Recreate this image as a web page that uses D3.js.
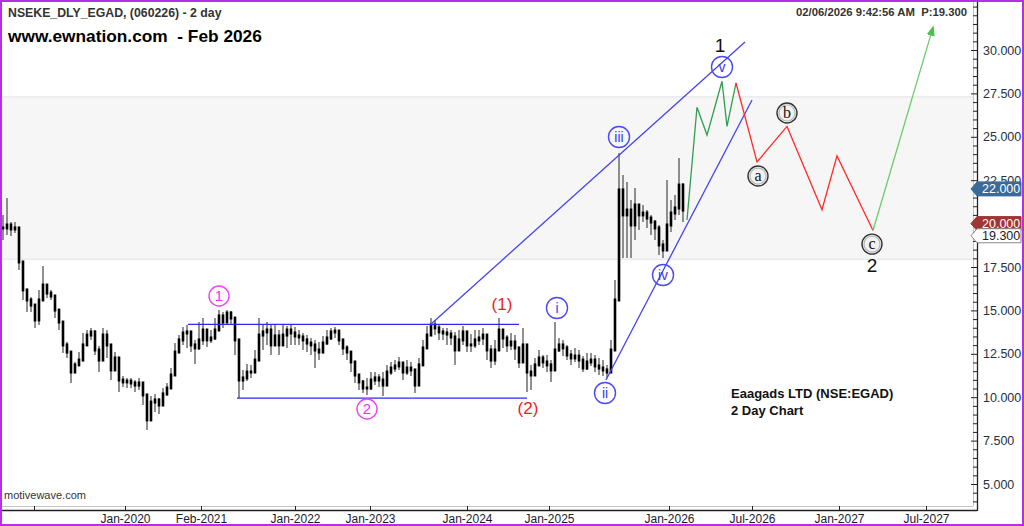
<!DOCTYPE html>
<html>
<head>
<meta charset="utf-8">
<script src="https://cdn.jsdelivr.net/npm/d3@7"></script>
<style>
  html, body { margin: 0; padding: 0; background: #fff; }
  svg { display: block; font-family: "Liberation Sans", Arial, sans-serif; }
</style>
</head>
<body>
<div class="chart"></div>
<script>
// price bars, one every 2-day period
const closes = [19.75,19.92,19.69,19.75,17.79,16.18,15.60,15.31,14.45,15.60,16.46,16.00,15.83,15.02,14.33,13.01,12.60,11.45,11.86,12.14,
  13.01,13.58,13.76,12.72,12.14,13.58,13.01,11.57,12.26,10.99,10.88,10.93,10.82,10.70,10.82,10.13,8.69,9.72,9.84,9.55,
  10.19,10.53,11.28,12.60,13.30,13.70,13.76,13.01,12.84,13.30,13.87,13.30,13.41,13.87,14.68,14.33,14.85,14.56,13.30,10.99,
  11.11,11.45,11.45,12.14,13.58,13.76,13.87,13.01,13.53,13.01,13.58,13.87,13.70,13.53,13.47,13.30,13.12,13.01,12.72,12.60,
  13.12,13.41,13.76,13.81,13.30,12.84,12.60,12.03,11.28,10.88,10.53,10.53,10.99,11.11,10.99,10.70,11.45,11.68,11.80,11.97,
  11.45,11.68,11.57,10.70,11.86,12.84,13.58,14.16,13.99,13.76,13.70,13.64,13.47,12.72,13.30,13.76,13.01,13.01,13.30,13.41,
  13.58,12.72,12.14,12.72,13.87,13.41,13.01,13.18,12.84,12.03,13.01,11.45,11.28,11.86,12.26,12.03,11.86,11.57,12.72,13.01,
  12.84,12.43,12.26,12.37,12.14,11.68,12.03,12.14,11.80,11.68,11.57,11.45,12.72,15.60,21.94,20.50,20.78,19.92,21.07,20.50,
  20.61,20.32,20.09,19.75,18.77,18.48,19.92,20.61,20.90,22.22,20.78];
const highs = [20.50,21.48,20.09,20.09,19.75,17.62,16.00,15.77,15.02,16.18,17.56,16.29,16.18,15.60,14.74,13.87,13.18,12.03,12.03,12.60,
  13.70,13.87,13.99,13.87,12.95,13.99,13.87,12.55,12.60,12.14,11.22,11.11,11.11,10.99,11.11,10.70,9.84,10.07,10.19,9.96,
  10.53,10.82,11.68,13.12,13.58,14.04,14.16,13.58,13.30,14.33,14.56,13.87,13.87,14.56,15.02,14.91,15.02,14.97,14.16,12.14,
  11.57,11.91,11.86,12.72,14.56,14.16,14.33,14.16,14.16,13.87,14.16,14.10,14.16,14.04,13.87,13.70,13.58,13.41,13.30,13.18,
  13.53,13.87,13.99,14.04,13.76,13.30,13.01,12.60,11.86,11.28,10.99,11.11,11.45,11.45,11.34,11.45,11.86,12.03,12.14,12.32,
  12.03,12.14,12.03,11.57,12.26,13.30,14.10,14.56,14.45,14.16,13.99,13.99,13.87,13.76,13.87,14.10,13.58,13.64,13.87,13.87,
  13.99,13.58,13.01,13.30,14.56,13.87,13.58,13.70,13.58,12.72,13.99,12.14,11.86,12.26,12.72,12.43,12.43,12.14,14.33,13.41,
  13.30,13.01,12.72,12.84,12.72,12.37,12.55,12.55,12.43,12.26,12.14,11.86,13.30,16.75,24.07,22.80,22.40,21.36,22.05,21.07,
  21.07,20.78,20.50,20.21,19.92,19.06,22.51,21.36,21.65,23.78,22.34];
const lows = [19.06,19.34,19.29,19.46,17.33,15.60,14.91,14.91,13.99,14.16,15.72,15.72,15.60,14.56,13.87,12.55,12.26,10.82,11.45,11.80,
  12.60,13.12,13.30,12.43,11.45,12.72,12.26,10.99,11.86,10.30,10.59,10.53,10.53,10.30,10.42,9.55,8.11,9.38,9.15,9.03,
  9.84,10.07,10.88,12.03,12.84,13.01,12.84,12.60,11.91,12.72,13.01,12.89,13.12,13.30,14.16,13.99,14.45,14.16,12.43,9.96,
  10.42,10.93,11.11,11.57,13.01,12.72,13.01,12.43,13.01,12.43,13.01,12.84,13.01,13.01,13.01,12.72,12.60,12.43,11.68,12.14,
  12.72,13.01,13.30,13.41,13.01,12.43,12.14,11.45,10.82,10.42,10.24,10.13,10.42,10.70,10.59,10.07,10.99,11.28,11.45,11.57,
  10.99,11.28,11.22,10.24,11.28,12.14,13.01,13.58,13.58,13.30,13.30,13.01,13.01,11.86,12.72,13.01,12.60,12.60,12.84,13.01,
  13.01,12.14,11.68,11.86,13.01,12.84,12.60,12.72,12.14,11.68,12.26,10.30,10.42,11.45,11.86,11.68,11.45,10.88,12.26,12.60,
  12.37,12.14,11.86,12.03,11.68,11.45,11.57,11.80,11.45,11.28,11.22,11.11,11.45,13.87,17.79,18.02,18.02,18.02,19.06,19.63,
  20.09,19.75,19.34,19.06,18.19,18.02,18.77,19.52,20.21,20.50,20.09];

// x axis, positions in bar numbers
const xTickBars = [7.75, 30.5, 49.5, 73, 91.75, 116, 136.5, 166.5, 187.25, 209, 230.75];
const xTickLabels = ["", "Jan-2020", "Feb-2021", "Jan-2022", "Jan-2023", "Jan-2024", "Jan-2025", "Jan-2026", "Jul-2026", "Jan-2027", "Jul-2027"];
const yTicks = [5, 7.5, 10, 12.5, 15, 17.5, 20, 22.5, 25, 27.5, 30];

// projected path  [bar, price]
const impulseProj = [[171, 20.21], [173.5, 26.7], [176, 25.1], [179.75, 28.2], [181, 25.6], [183.25, 28.1]];
const correctionProj = [[183.25, 28.1], [188.5, 23.55], [196, 25.6], [204.75, 20.8], [208.5, 23.9], [217.5, 19.6]];
const rallyProj = [[217.5, 19.6], [232.5, 31.3]];

// trend lines
const channelUpper = [[106.75, 14.16], [185.5, 30.46]];
const channelLower = [[150.75, 10.99], [187.25, 27.12]];
const rangeTop = [[46.25, 14.2], [129, 14.2]];
const rangeBottom = [[58.5, 9.95], [131, 9.95]];
const shadedBand = [17.95, 27.3];

// wave labels
const minorLabels = [["1", 54, 15.83], ["2", 91, 9.32]];
const intermediateLabels = [["(1)", 124.75, 15.37], ["(2)", 131.25, 9.38]];
const minuteLabels = [["i", 138.5, 15.14], ["ii", 150.5, 10.24], ["iii", 154, 24.99], ["iv", 165, 17.04], ["v", 179.75, 29.02]];
const abcLabels = [["a", 188.75, 22.74], ["b", 196, 26.37], ["c", 217.25, 18.82]];
const primaryLabels = [["1", 179.25, 30.29], ["2", 217.25, 17.61]];

// price tags on the right axis
const tagValues = [22, 20, 19.3];
const tagFills = ["#3a6a98", "#a33434", "#ffffff"];
const tagText = ["#ffffff", "#ffffff", "#222222"];

(function(d, d3) {
  const W = 1024, H = 526;
  const plotRight = 973, plotBottom = 506, axisX = 977, axisY = 510;

  const svg = d3.select(".chart").append("svg").attr("width", W).attr("height", H);

  const x = d3.scaleLinear().domain([-0.25, 242.75]).range([2, 974]);
  const y = d3.scaleLinear().domain([5, 30]).range([484, 50]);
  const line = d3.line().x(p => x(p[0])).y(p => y(p[1]));

  // band + plot frame
  svg.append("rect")
    .attr("x", 2).attr("width", plotRight - 2)
    .attr("y", y(shadedBand[1])).attr("height", y(shadedBand[0]) - y(shadedBand[1]))
    .attr("fill", "#f6f6f6");
  shadedBand.forEach(v => {
    svg.append("line").attr("x1", 2).attr("x2", plotRight)
      .attr("y1", y(v)).attr("y2", y(v))
      .attr("stroke", "#e2e2e2");
  });
  svg.append("line").attr("x1", plotRight + 0.5).attr("x2", plotRight + 0.5)
    .attr("y1", 0).attr("y2", plotBottom).attr("stroke", "#c4c4c4");
  svg.append("line").attr("x1", 0).attr("x2", plotRight).attr("y1", plotBottom + 0.5).attr("y2", plotBottom + 0.5)
    .attr("stroke", "#c4c4c4");

  // price bars
  const bars = svg.append("g");
  bars.selectAll("line.wick").data(closes).join("line")
    .attr("class", "wick")
    .attr("x1", (c, i) => x(i)).attr("x2", (c, i) => x(i))
    .attr("y1", (c, i) => y(highs[i])).attr("y2", (c, i) => y(lows[i]))
    .attr("stroke", "#555").attr("stroke-width", 1.3);
  bars.selectAll("line.body").data(closes).join("line")
    .attr("class", "body")
    .attr("x1", (c, i) => x(i)).attr("x2", (c, i) => x(i))
    .attr("y1", (c, i) => {
      const o = i > 0 ? closes[i - 1] : c;
      return Math.min(y(o), y(c)) - 1.5;
    })
    .attr("y2", (c, i) => {
      const o = i > 0 ? closes[i - 1] : c;
      return Math.max(y(o), y(c)) + 1.5;
    })
    .attr("stroke", "#000").attr("stroke-width", 2.6);

  // trend lines
  [rangeTop, rangeBottom].forEach(seg => {
    svg.append("path").attr("d", line(seg)).attr("stroke", "#2a2af0").attr("stroke-width", 1.2).attr("fill", "none");
  });
  [channelUpper, channelLower].forEach(seg => {
    svg.append("path").attr("d", line(seg)).attr("stroke", "#4444ee").attr("stroke-width", 1.3).attr("fill", "none");
  });

  // projection
  svg.append("defs").append("marker")
    .attr("id", "arrow").attr("viewBox", "0 0 10 10").attr("refX", 8).attr("refY", 5)
    .attr("markerWidth", 8).attr("markerHeight", 8).attr("orient", "auto")
    .append("path").attr("d", "M0,1 L10,5 L0,9 z").attr("fill", "#4cbf4c");
  svg.append("path").attr("d", line(impulseProj)).attr("stroke", "#2e9e4e").attr("stroke-width", 1.3).attr("fill", "none");
  svg.append("path").attr("d", line(correctionProj)).attr("stroke", "#ff2a2a").attr("stroke-width", 1.3).attr("fill", "none");
  svg.append("path").attr("d", line(rallyProj)).attr("stroke", "#6ccc6c").attr("stroke-width", 1.3).attr("fill", "none")
    .attr("marker-end", "url(#arrow)");

  // wave labels
  function circled(list, opts) {
    const g = svg.append("g").selectAll("g").data(list).join("g")
      .attr("transform", l => `translate(${x(l[1])},${y(l[2])})`);
    if (opts.ring) {
      g.append("circle").attr("r", opts.r).attr("fill", opts.fill).attr("stroke", opts.stroke).attr("stroke-width", 1.4);
    }
    if (opts.inner) {
      g.append("circle").attr("r", opts.r - 2).attr("fill", "none").attr("stroke", opts.inner).attr("stroke-width", 1.2);
    }
    g.append("text").text(l => l[0])
      .attr("text-anchor", "middle").attr("dy", opts.dy)
      .attr("font-size", opts.size).attr("fill", opts.color)
      .style("font-family", opts.family || null);
  }

  circled(minorLabels, { ring: true, r: 10, fill: "none", stroke: "#ee44ee", color: "#ee33ee", size: 15, dy: "0.36em" });
  circled(intermediateLabels, { ring: false, color: "#ee1c1c", size: 17, dy: "0.36em" });
  circled(minuteLabels, { ring: true, r: 10.5, fill: "none", stroke: "#4a4af2", color: "#3a3ae6", size: 14, dy: "0.35em" });
  circled(abcLabels, { ring: true, r: 10, fill: "#f2f2f2", stroke: "#333", inner: "#b8b8b8", color: "#111", size: 16,
    dy: "0.3em", family: "'Liberation Serif', 'Times New Roman', serif" });
  circled(primaryLabels, { ring: false, color: "#111", size: 19, dy: "0.36em" });

  // axes
  const xAxis = d3.axisBottom(x).tickValues(xTickBars)
    .tickFormat((b, i) => xTickLabels[i]).tickSizeInner(-4).tickSizeOuter(0).tickPadding(4);
  const gx = svg.append("g").attr("transform", `translate(0,${axisY})`).call(xAxis);
  gx.select(".domain").remove();
  gx.selectAll("line").attr("stroke", "#222");
  gx.selectAll("text").attr("font-size", 12).attr("fill", "#1c1c2c").attr("font-family", "'Liberation Sans', Arial, sans-serif");
  svg.append("line").attr("x1", 0).attr("x2", axisX).attr("y1", axisY + 0.5).attr("y2", axisY + 0.5).attr("stroke", "#222").attr("stroke-width", 1.3);

  const minor = d3.range(3.5, 33, 0.5).filter(v => yTicks.indexOf(v) < 0);
  const gyMinor = svg.append("g").attr("transform", `translate(${axisX},0)`)
    .call(d3.axisRight(y).tickValues(minor).tickFormat("").tickSizeInner(-4).tickSizeOuter(0));
  gyMinor.select(".domain").remove();
  const gy = svg.append("g").attr("transform", `translate(${axisX},0)`)
    .call(d3.axisRight(y).tickValues(yTicks).tickFormat(d3.format(".3f")).tickSizeInner(-6).tickSizeOuter(0).tickPadding(6));
  gy.select(".domain").remove();
  svg.selectAll(".tick line").attr("stroke", "#222");
  gy.selectAll("text").attr("font-size", 12.5).attr("fill", "#263040").attr("font-family", "'Liberation Sans', Arial, sans-serif");
  svg.append("line").attr("x1", axisX + 0.5).attr("x2", axisX + 0.5).attr("y1", 0).attr("y2", axisY + 1).attr("stroke", "#222").attr("stroke-width", 1.3);

  // price tags
  const tags = svg.append("g").selectAll("g").data(tagValues).join("g")
    .attr("transform", v => `translate(${axisX},${y(v)})`);
  tags.append("path")
    .attr("d", "M-6,0 L0,-7 L44,-7 L44,7 L0,7 Z")
    .attr("fill", (v, i) => tagFills[i]).attr("stroke", (v, i) => i == 2 ? "#888" : tagFills[i]);
  tags.append("text").text(v => d3.format(".3f")(v))
    .attr("x", 5).attr("dy", "0.36em").attr("font-size", 12.5)
    .attr("fill", (v, i) => tagText[i]);

  // titles
  svg.append("text").attr("x", 8).attr("y", 17).text("NSEKE_DLY_EGAD, (060226) - 2 day")
    .attr("font-size", 12.3).attr("font-weight", "bold").attr("fill", "#333");
  svg.append("text").attr("x", 8).attr("y", 42).text("www.ewnation.com  - Feb 2026")
    .attr("font-size", 17.3).attr("font-weight", "bold").attr("fill", "#000").style("white-space", "pre");
  svg.append("text").attr("x", 967).attr("y", 16).text("02/06/2026 9:42:56 AM  P:19.300")
    .attr("text-anchor", "end").attr("font-size", 11.3).attr("font-weight", "bold").attr("fill", "#333").style("white-space", "pre");
  svg.append("text").attr("x", 731).attr("y", 398).text("Eaagads LTD (NSE:EGAD)")
    .attr("font-size", 13).attr("font-weight", "bold").attr("fill", "#111");
  svg.append("text").attr("x", 731).attr("y", 415).text("2 Day Chart")
    .attr("font-size", 13).attr("font-weight", "bold").attr("fill", "#111");
  svg.append("text").attr("x", 4).attr("y", 499).text("motivewave.com")
    .attr("font-size", 11).attr("fill", "#333");

  // outer frame
  svg.append("rect").attr("x", 1).attr("y", 1).attr("width", W - 2).attr("height", H - 2)
    .attr("fill", "none").attr("stroke", "#b72ee6").attr("stroke-width", 2);

  console.log("bars", closes.length, highs.length, lows.length);
})(document, d3);
</script>
</body>
</html>
